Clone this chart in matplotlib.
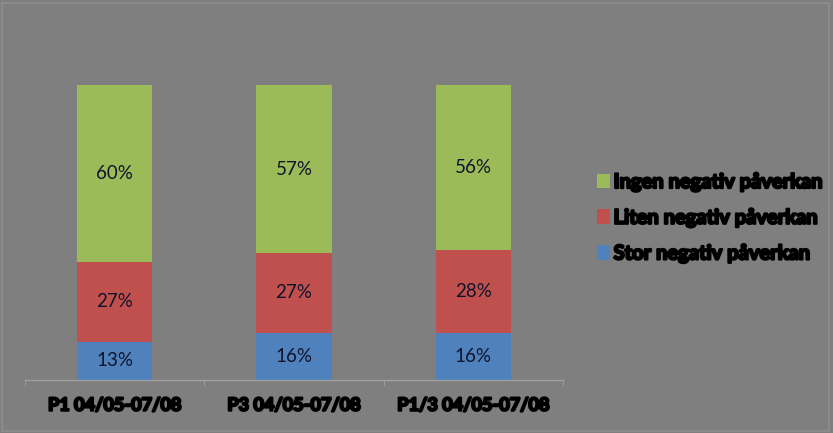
import matplotlib
matplotlib.use("Agg")
import matplotlib.pyplot as plt
from matplotlib.patches import Rectangle
import matplotlib.patheffects as pe
import numpy as np

categories = ["P1 04/05-07/08", "P3 04/05-07/08", "P1/3 04/05-07/08"]
stor = [13, 16, 16]
liten = [27, 27, 28]
ingen = [60, 57, 56]
series_names = ["Stor negativ påverkan", "Liten negativ påverkan", "Ingen negativ påverkan"]
colors = ["#4F81BD", "#C0504D", "#9BBB59"]

plt.rcParams['font.family'] = ['Lato', 'DejaVu Sans']

fig = plt.figure(figsize=(8.33, 4.33), dpi=100)
bg = "#7f7f7f"
fig.patch.set_facecolor(bg)
fig.patches.append(Rectangle((0.003, 0.004), 0.992, 0.99, transform=fig.transFigure,
                             fill=False, edgecolor="#8e8e8e", linewidth=1.2))

ax = fig.add_axes([25/833, 1-380/433, 538/833, 295/433])
ax.set_facecolor(bg)
x = np.arange(len(categories))
bottom = np.zeros(len(categories))
handles = []
for vals, name, c in zip([stor, liten, ingen], series_names, colors):
    v = np.array(vals) / 100.0
    b = ax.bar(x, v, width=0.42, bottom=bottom, color=c, label=name)
    handles.append(b)
    for xi, yi, bi in zip(x, v, bottom):
        ax.text(xi, bi + yi/2, f"{int(round(yi*100))}%", ha="center", va="center",
                fontsize=13.5, color="#10142a")
    bottom += v

stroke = [pe.withStroke(linewidth=1.6, foreground="black")]

ax.set_xlim(-0.5, 2.5)
ax.set_ylim(0, 1.0)
ax.set_yticks([])
for s in ["top", "right", "left"]:
    ax.spines[s].set_visible(False)
ax.spines["bottom"].set_color("#a0a0a0")
ax.spines["bottom"].set_linewidth(1.0)
ax.set_xticks(x)
ax.set_xticklabels(categories, fontsize=13, fontweight="bold", color="black")
for t in ax.get_xticklabels():
    t.set_path_effects(stroke)
ax.tick_params(axis="x", which="major", length=0, pad=12)
ax.set_xticks([-0.5, 0.5, 1.5, 2.5], minor=True)
ax.tick_params(axis="x", which="minor", length=4, color="#a0a0a0", direction="out")

leg = fig.legend(handles[::-1], series_names[::-1], loc="upper left",
                 bbox_to_anchor=(589/833, 1-164/433), frameon=False,
                 fontsize=14.5, handlelength=0.62, handleheight=0.75,
                 handletextpad=0.2, labelspacing=0.78, borderaxespad=0)
for t in leg.get_texts():
    t.set_fontweight("bold")
    t.set_color("black")
    t.set_path_effects(stroke)

fig.savefig("out.png", dpi=100, facecolor=fig.get_facecolor())
